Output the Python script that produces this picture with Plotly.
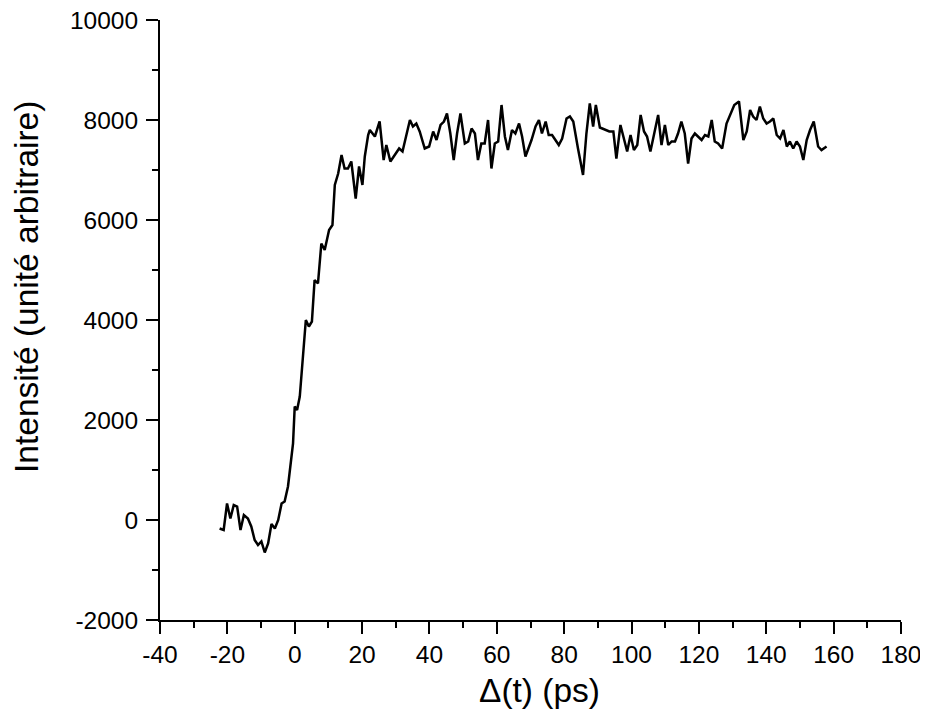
import plotly.graph_objects as go

# Time delay (ps) and intensity (arbitrary units)
delay_ps = [
    -22.3, -21.1, -20.1, -19.1, -18.1, -17.1, -16.1, -15.1, -13.9, -12.9,
    -11.9, -10.9, -9.9, -8.9, -7.9, -6.9, -5.9, -4.9, -3.9, -3.0,
    -2.0, -1.2, -0.5, 0.0, 0.7, 1.5, 2.5, 3.3, 4.2, 5.1,
    5.9, 6.9, 7.9, 8.9, 10.2, 11.2, 11.9, 12.9, 13.9, 14.8,
    15.8, 16.8, 18.1, 19.1, 20.1, 20.8, 21.8,
    22.3, 23.8, 25.2, 26.4, 27.2, 28.4, 29.7, 31.0, 32.0, 33.0,
    34.2, 35.1, 36.1, 37.1, 38.6, 39.9, 41.1, 42.1, 43.3, 44.3,
    45.2, 46.2, 47.2, 48.2, 49.2, 50.5, 51.5, 52.5, 53.5, 54.4,
    55.4, 56.4, 57.4, 58.4, 59.4, 60.4, 61.4, 62.4, 63.3, 64.5,
    65.5, 66.6, 67.5, 68.5, 70.3, 71.5, 72.5, 73.4, 74.5, 75.4,
    76.4, 77.4, 78.4, 79.4, 80.7, 81.7, 82.7, 84.1, 85.6, 86.6,
    87.6, 88.6, 89.4, 90.6, 92.1, 93.4, 94.6, 95.5, 96.7, 97.7,
    98.7, 99.7, 100.7, 101.7, 102.7, 103.7, 104.6, 105.6, 106.6, 107.9,
    108.9, 109.9, 110.9, 111.9, 112.9, 113.8, 114.8, 115.8, 116.8, 117.8,
    118.8, 119.8, 120.8, 121.8, 122.8, 123.8, 124.7, 125.7, 126.9, 128.2,
    129.2, 130.5, 131.9, 133.2, 134.2, 135.2, 136.1, 137.1, 138.1, 139.1,
    140.1, 141.1, 142.1, 143.1, 144.1, 145.1, 146.1, 147.0, 148.0, 149.0,
    150.0, 151.0, 152.0, 153.0, 154.1, 155.4, 156.4, 157.9,
]

intensity = [
    -170, -200, 330, 30, 300, 270, -200, 100, 30, -130,
    -400, -500, -430, -650, -470, -80, -170, 0, 330, 370,
    670, 1070, 1530, 2270, 2200, 2470, 3270, 4000, 3870, 3970,
    4800, 4730, 5530, 5400, 5800, 5900, 6700, 6930, 7300, 7030,
    7030, 7170, 6430, 7070, 6700, 7270, 7700,
    7800, 7670, 7970, 7200, 7500, 7170, 7300, 7430, 7370, 7630,
    8000, 7870, 7930, 7770, 7430, 7470, 7770, 7600, 7900, 7970,
    8130, 7730, 7200, 7730, 8130, 7530, 7570, 7830, 7730, 7200,
    7530, 7530, 8000, 7030, 7530, 7570, 8300, 7670, 7400, 7800,
    7730, 7930, 7670, 7270, 7600, 7870, 8000, 7730, 7970, 7700,
    7700, 7600, 7500, 7630, 8030, 8070, 7970, 7430, 6900, 7730,
    8330, 7870, 8300, 7850, 7800, 7770, 7770, 7230, 7900, 7630,
    7370, 7700, 7400, 7500, 8100, 7770, 7670, 7370, 7670, 8100,
    7500, 7900, 7500, 7570, 7570, 7730, 7970, 7730, 7130, 7630,
    7730, 7670, 7600, 7700, 7670, 8000, 7570, 7530, 7430, 7930,
    8100, 8300, 8370, 7600, 7770, 8200, 8070, 8000, 8270, 8030,
    7930, 7970, 8030, 7700, 7630, 7800, 7470, 7570, 7430, 7570,
    7470, 7200, 7600, 7800, 7970, 7470, 7400, 7470,
]

# Tick values and labels
x_tick_values = [-40, -20, 0, 20, 40, 60, 80, 100, 120, 140, 160, 180]
x_tick_labels = ["-40", "-20", "0", "20", "40", "60", "80", "100", "120", "140", "160", "180"]
y_tick_values = [-2000, 0, 2000, 4000, 6000, 8000, 10000]
y_tick_labels = ["-2000", "0", "2000", "4000", "6000", "8000", "10000"]

x_title = "Δ(t) (ps)"
y_title = "Intensité (unité arbitraire)"

font_family = "Liberation Sans, Arial, sans-serif"

fig = go.Figure()
fig.add_trace(go.Scatter(
    x=delay_ps, y=intensity, mode="lines",
    line=dict(color="black", width=2.5),
    showlegend=False,
))

axis_common = dict(
    showgrid=False, zeroline=False, showline=True,
    linecolor="black", linewidth=2,
    ticks="outside", ticklen=12, tickwidth=2, tickcolor="black",
    tickfont=dict(family=font_family, size=24.5, color="black"),
    mirror=False, automargin=False, ticklabeloverflow="allow",
)

fig.update_xaxes(
    range=[-40, 180], tickmode="array",
    tickvals=x_tick_values, ticktext=x_tick_labels,
    minor=dict(dtick=10, tick0=-40, ticks="outside", ticklen=6, tickwidth=2, tickcolor="black"),
    **axis_common,
)
fig.update_yaxes(
    range=[-2000, 10000], tickmode="array",
    tickvals=y_tick_values, ticktext=y_tick_labels,
    ticklabelstandoff=3,
    minor=dict(dtick=1000, tick0=-2000, ticks="outside", ticklen=6, tickwidth=2, tickcolor="black"),
    **axis_common,
)

title_font = dict(family=font_family, size=33.5, color="black")
fig.add_annotation(
    text=x_title, xref="paper", yref="paper", x=0.5128, y=-0.1167,
    showarrow=False, font=title_font, xanchor="center", yanchor="middle",
)
fig.add_annotation(
    text=y_title, xref="paper", yref="paper", x=-0.1795, y=0.555,
    showarrow=False, font=title_font, xanchor="center", yanchor="middle",
    textangle=-90, borderpad=0,
)

fig.update_layout(
    width=928, height=717,
    margin=dict(l=152, r=35, t=12, b=105),
    paper_bgcolor="white", plot_bgcolor="white",
)

fig.write_html("out.html")
